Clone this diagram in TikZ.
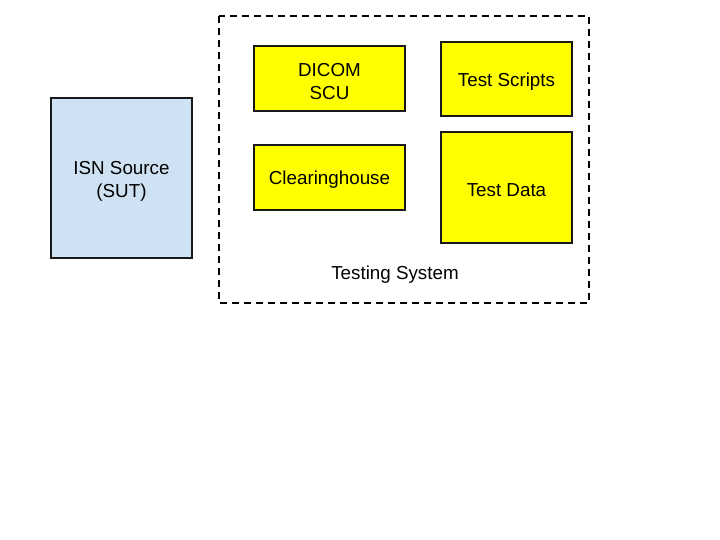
\documentclass[tikz,border=0pt]{standalone}
\usepackage{fontspec}
\setmainfont{Liberation Sans}
\definecolor{ylw}{RGB}{255,255,0}
\definecolor{lblue}{RGB}{207,226,243}
\begin{document}
\begin{tikzpicture}[x=1pt,y=-1pt,
  box/.style={draw=black!90,line width=1.5pt},
  yellowbox/.style={box,fill=ylw},
  lbl/.style={font=\fontsize{18.8}{23}\selectfont,align=center,inner sep=0pt}]
\useasboundingbox (0,0) rectangle (720,540);
\fill[white] (0,0) rectangle (720,540);
\draw[box,fill=lblue] (51,98) rectangle (192,258);
\node[lbl] (isn) at (121.5,181) {ISN Source\\(SUT)};
\draw[line width=1.5pt,dash pattern=on 7pt off 5pt] (219,16) rectangle (589,303);
\draw[yellowbox] (254,46) rectangle (405,111);
\node[lbl] (dicom) at (329.5,81.5) {DICOM\\SCU};
\draw[yellowbox] (441,42) rectangle (572,116);
\node[lbl] (scripts) at (506.5,81.5) {Test Scripts};
\draw[yellowbox] (254,145) rectangle (405,210);
\node[lbl] (clear) at (329.5,180) {Clearinghouse};
\draw[yellowbox] (441,132) rectangle (572,243);
\node[lbl] (data) at (506.5,190) {Test Data};
\node[lbl] (ts) at (395,274.5) {Testing System};
\end{tikzpicture}
\end{document}
